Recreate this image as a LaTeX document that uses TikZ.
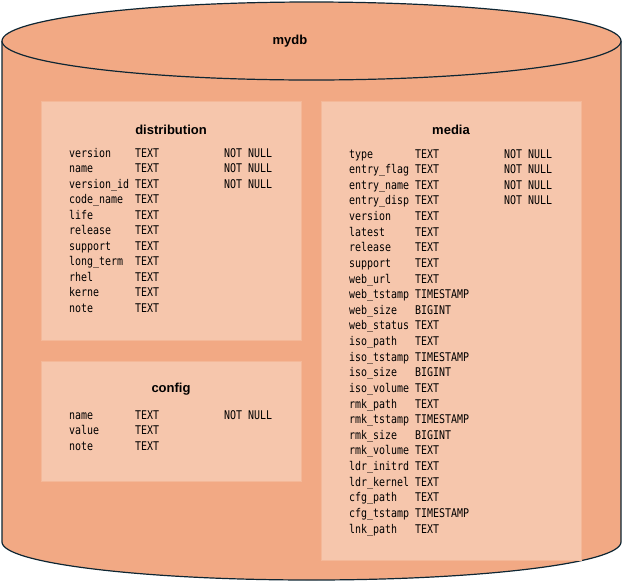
\documentclass[tikz,border=0pt]{standalone}
\usepackage{fontspec}
\setmainfont{Liberation Sans}
\newfontfamily\monof[FakeStretch=0.83]{DejaVu Sans Mono}
\definecolor{cyl}{HTML}{F2A984}
\definecolor{tbl}{HTML}{F6C6AC}
\definecolor{tbledge}{HTML}{F4B898}
\definecolor{edge}{HTML}{0E2633}
\begin{document}
\begin{tikzpicture}[x=1pt,y=-1pt,
  tablebox/.style={fill=tbl,draw=tbledge,line width=0.8pt,anchor=north west,inner sep=0pt},
  ttl/.style={font=\fontsize{13}{15}\selectfont\bfseries,text=black,anchor=base,inner sep=0pt},
  fld/.style={font=\monof\fontsize{12}{14}\selectfont,text=black,anchor=base west,inner sep=0pt}]
\useasboundingbox (0,0) rectangle (622,582);
% cylinder
\fill[cyl] (2,41) -- (2,542) arc[start angle=180,end angle=0,x radius=309.5,y radius=38] -- (621,41) -- cycle;
\draw[edge,line width=1.2pt] (2,41) -- (2,542) arc[start angle=180,end angle=0,x radius=309.5,y radius=38] -- (621,41);
\filldraw[fill=cyl,draw=edge,line width=1.2pt] (311.5,41) ellipse[x radius=309.5,y radius=39];
\node[ttl] (mydb) at (290,44) {mydb};
% tables
\node[tablebox,minimum width=260,minimum height=239] (dist) at (41,101) {};
\node[tablebox,minimum width=260,minimum height=120] (conf) at (41,361) {};
\node[tablebox,minimum width=260,minimum height=459] (media) at (321,101) {};
\node[ttl] (distT) at (171,134) {distribution};
\node[ttl] (confT) at (171,392) {config};
\node[ttl] (mediaT) at (451,134) {media};
\foreach \n/\t/\c [count=\i from 0] in {version/TEXT/NOT NULL,name/TEXT/NOT NULL,version\_id/TEXT/NOT NULL,code\_name/TEXT/,life/TEXT/,release/TEXT/,support/TEXT/,long\_term/TEXT/,rhel/TEXT/,kerne/TEXT/,note/TEXT/}{
  \node[fld] (dn\i) at (69,157+15.5*\i) {\n};
  \node[fld] (dt\i) at (135,157+15.5*\i) {\t};
  \node[fld] (dc\i) at (224,157+15.5*\i) {\c};
}
\foreach \n/\t/\c [count=\i from 0] in {name/TEXT/NOT NULL,value/TEXT/,note/TEXT/}{
  \node[fld] (cn\i) at (69,419+15.5*\i) {\n};
  \node[fld] (ct\i) at (135,419+15.5*\i) {\t};
  \node[fld] (cc\i) at (224,419+15.5*\i) {\c};
}
\foreach \n/\t/\c [count=\i from 0] in {type/TEXT/NOT NULL,entry\_flag/TEXT/NOT NULL,entry\_name/TEXT/NOT NULL,entry\_disp/TEXT/NOT NULL,version/TEXT/,latest/TEXT/,release/TEXT/,support/TEXT/,web\_url/TEXT/,web\_tstamp/TIMESTAMP/,web\_size/BIGINT/,web\_status/TEXT/,iso\_path/TEXT/,iso\_tstamp/TIMESTAMP/,iso\_size/BIGINT/,iso\_volume/TEXT/,rmk\_path/TEXT/,rmk\_tstamp/TIMESTAMP/,rmk\_size/BIGINT/,rmk\_volume/TEXT/,ldr\_initrd/TEXT/,ldr\_kernel/TEXT/,cfg\_path/TEXT/,cfg\_tstamp/TIMESTAMP/,lnk\_path/TEXT/}{
  \node[fld] (mn\i) at (349,158+15.625*\i) {\n};
  \node[fld] (mt\i) at (415,158+15.625*\i) {\t};
  \node[fld] (mc\i) at (504,158+15.625*\i) {\c};
}
\end{tikzpicture}
\end{document}
